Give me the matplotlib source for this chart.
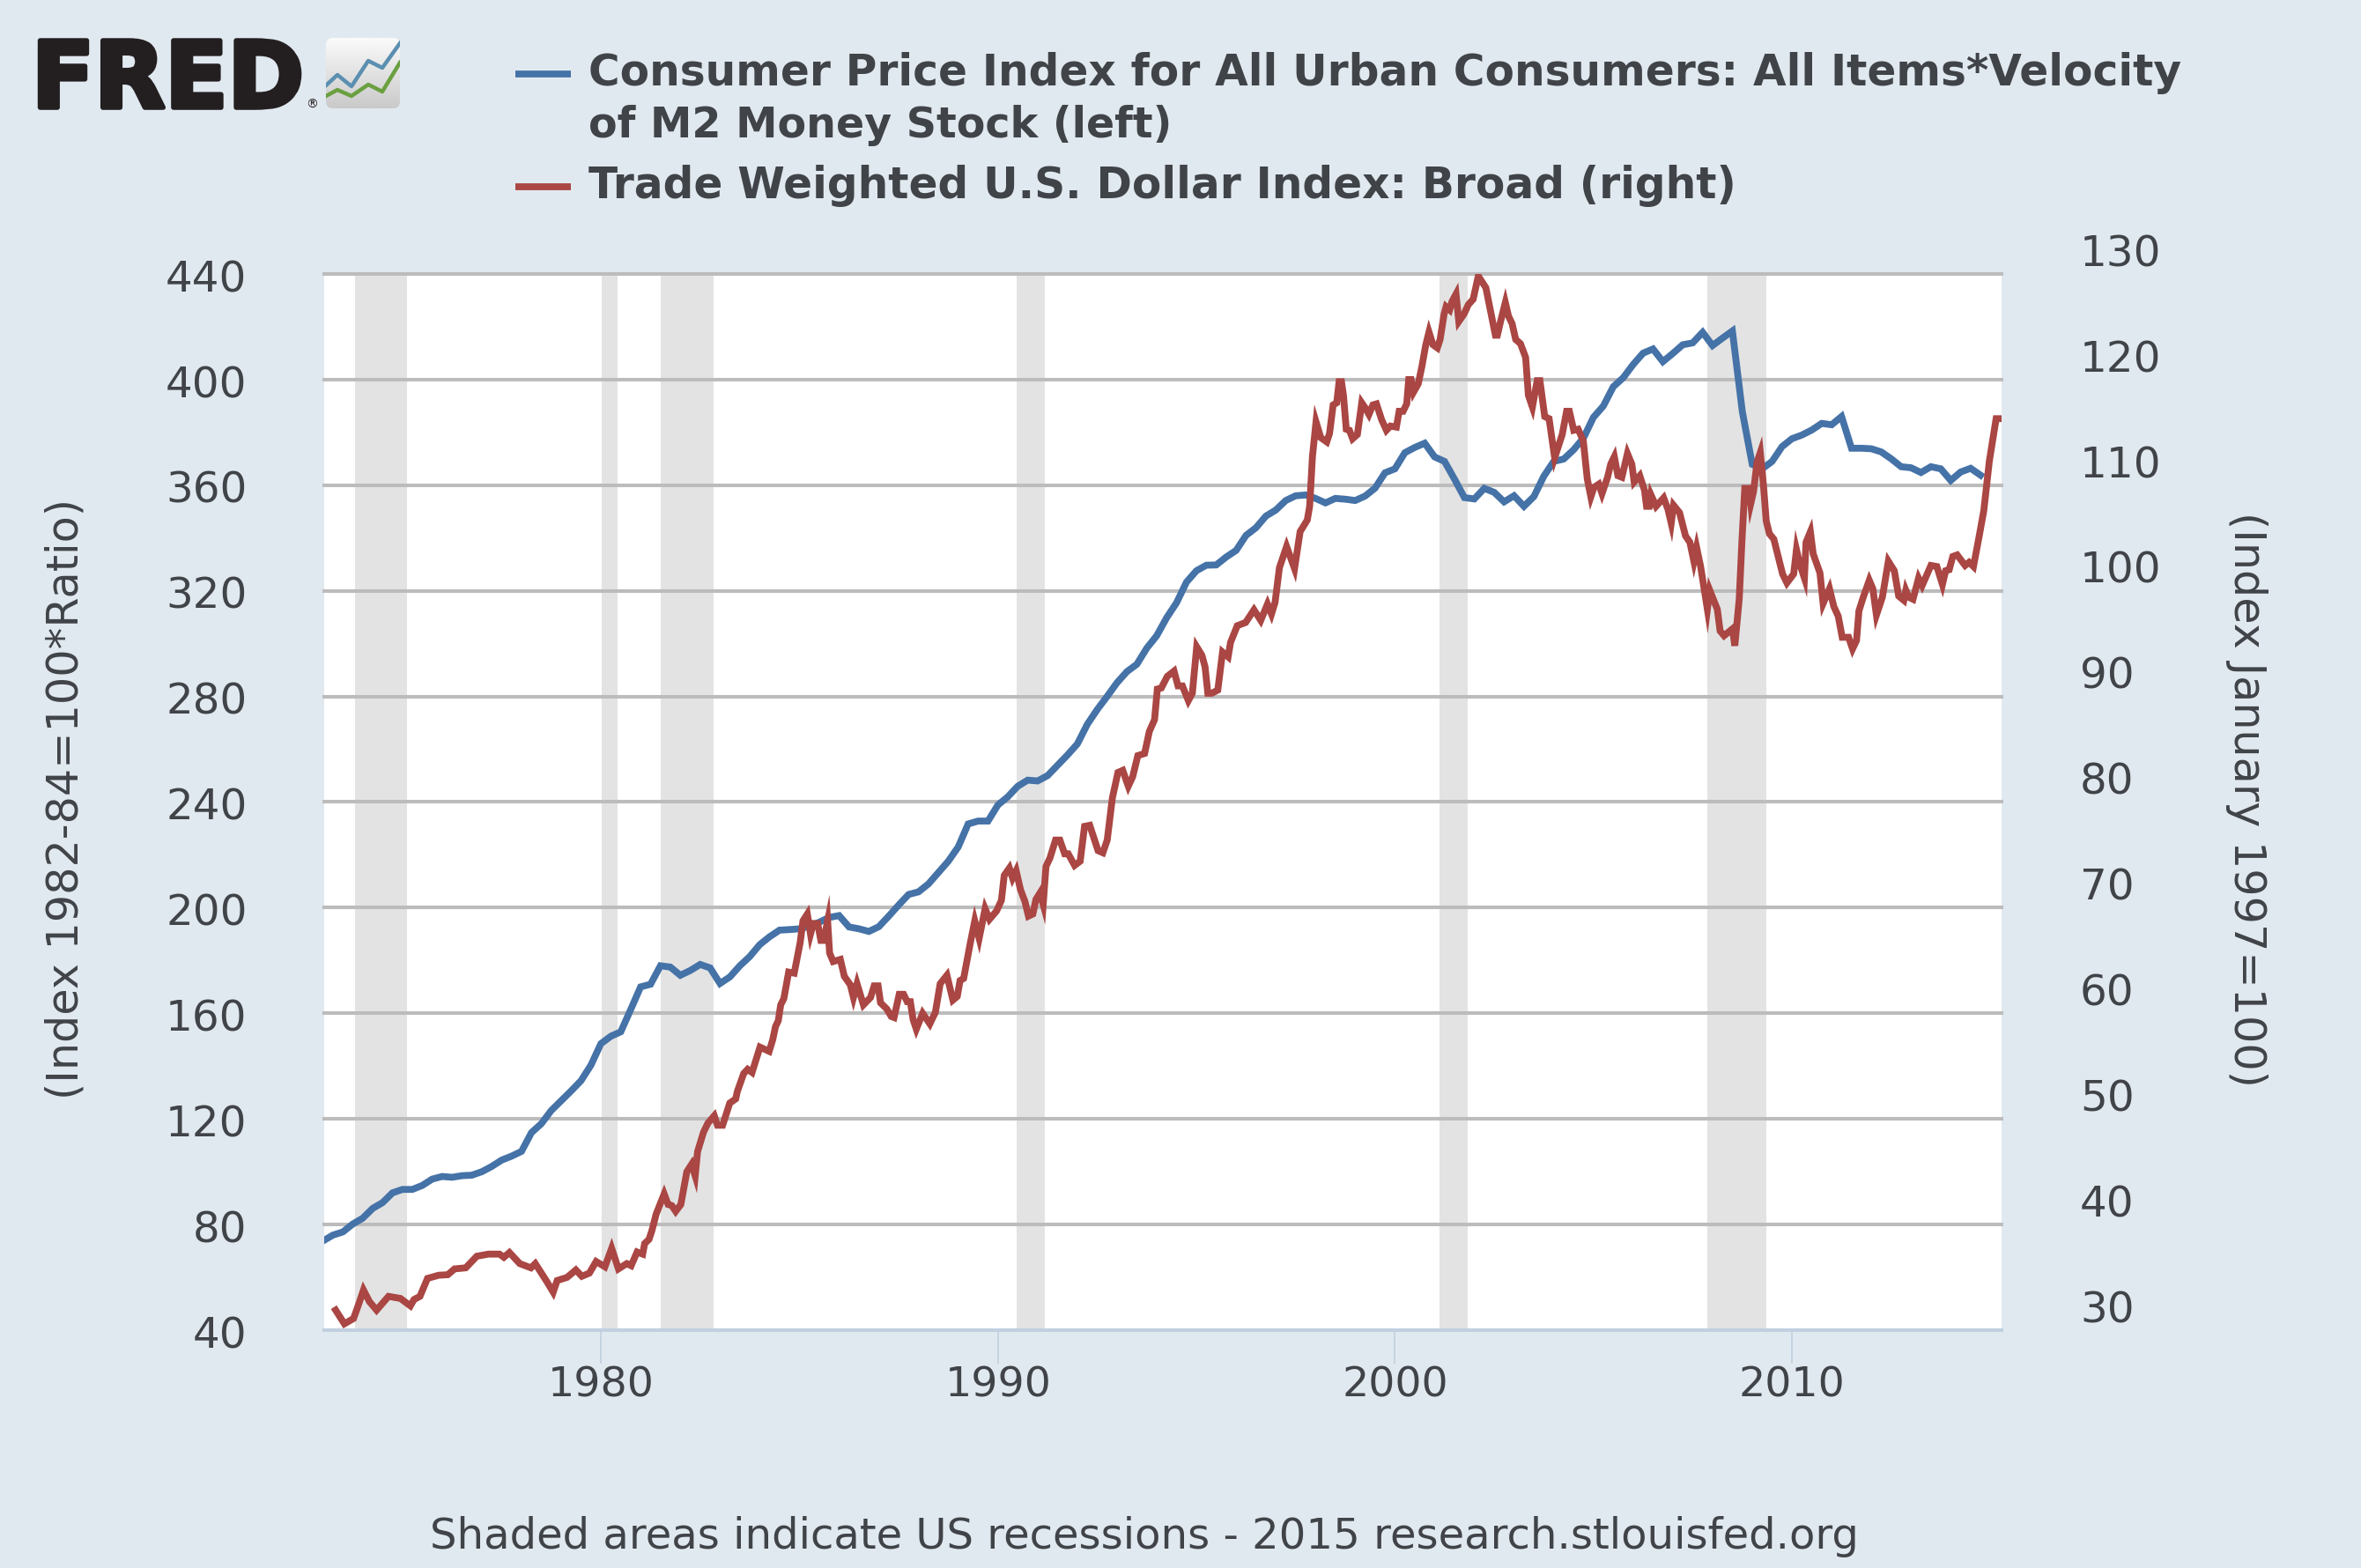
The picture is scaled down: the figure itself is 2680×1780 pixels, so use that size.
import matplotlib
matplotlib.use("Agg")
import matplotlib.pyplot as plt
import matplotlib.patheffects as pe
from matplotlib.patches import FancyBboxPatch
from matplotlib.lines import Line2D
from matplotlib.transforms import ScaledTranslation
import numpy as np

W, H = 2680, 1780
DPI = 100

BG = "#e1e9f0"
TEXT = "#404448"
BLUE = "#4572a7"
RED = "#aa4643"
GRID = "#bcbcbc"
AXIS = "#c0d0e0"

# CPI * M2 velocity, quarterly from 1973 Q1
blue_values = [
    73.8, 76, 77.2, 80.2, 82.4, 86.1, 88.3, 92, 93.3, 93.3, 94.8, 97.2, 98.2, 97.9, 98.5, 98.7,
    100, 102, 104.4, 105.9, 107.7, 114.8, 118.2, 123.2, 126.9, 130.6, 134.5, 140.4, 148.5, 151.3, 153, 161.4,
    170, 171, 178, 177.5, 174.4, 176.2, 178.5, 177.2, 171.3, 173.8, 178, 181.5, 186, 189, 191.5, 191.7,
    192, 193, 194.5, 196.3, 197, 192.7, 192, 191, 192.8, 196.8, 201, 205, 206, 209, 213.3, 217.6,
    223, 231.7, 232.8, 232.8, 238.9, 242, 246, 248.3, 248, 250, 253.9, 257.8, 262, 269.4, 275, 280,
    285.2, 289.4, 292.2, 298.3, 303, 309.8, 315.5, 323.3, 327.6, 329.7, 329.8, 332.8, 335.3, 341, 343.9, 348.3,
    350.6, 354.2, 356, 356.3, 355, 353.3, 355, 354.7, 354.2, 355.9, 358.9, 364.7,
    366.2, 372.3, 374.3, 375.9, 370.7, 369, 362.3, 355.3, 354.8, 358.8, 357.3, 353.7, 356, 352, 355.7, 363.4,
    369, 369.9, 373.4, 377.9, 385.7, 390, 397.3, 400.7, 405.7, 410, 411.6, 406.8, 409.9, 413.2, 413.9, 417.9,
    412.9, 415.7, 418.4, 387.9, 367.9, 366.2, 369, 374.6, 377.6, 379, 380.9, 383.4, 382.9, 386, 374, 374,
    373.8, 372.6, 370, 367, 366.6, 364.8, 367, 366.2, 361.8, 365, 366.4, 363.8,
]
blue_years = 1973 + np.arange(len(blue_values)) / 4

# trade weighted dollar, read vertex by vertex
red_years = [
    1973.33, 1973.55, 1973.78, 1973.89, 1974.03, 1974.18, 1974.36, 1974.66, 1974.96, 1975.21, 1975.3, 1975.45,
    1975.64, 1975.92, 1976.15, 1976.32, 1976.6, 1976.88, 1977.17, 1977.45, 1977.56, 1977.7, 1977.96, 1978.24,
    1978.35, 1978.64, 1978.8, 1978.9, 1979.15, 1979.37, 1979.52, 1979.71, 1979.88, 1980.1, 1980.27, 1980.44,
    1980.65, 1980.76,
    1980.84, 1980.91, 1981.05, 1981.1, 1981.21, 1981.28, 1981.39, 1981.59, 1981.69, 1981.78, 1981.88, 1982.01,
    1982.16, 1982.28, 1982.37, 1982.43, 1982.58, 1982.69, 1982.85, 1982.93, 1983.06, 1983.24, 1983.39, 1983.43,
    1983.59, 1983.69, 1983.8, 1984.0, 1984.23, 1984.32, 1984.39, 1984.46, 1984.52,
    1984.6, 1984.72, 1984.86, 1985.01, 1985.08, 1985.19, 1985.27, 1985.34, 1985.45, 1985.53, 1985.6,
    1985.7, 1985.75, 1985.84, 1986.02, 1986.12, 1986.27, 1986.35, 1986.44, 1986.6, 1986.78, 1986.87, 1986.97,
    1987.03, 1987.19, 1987.3, 1987.37, 1987.5, 1987.61, 1987.7, 1987.78, 1987.85, 1987.93, 1988.09, 1988.27,
    1988.41, 1988.53, 1988.7, 1988.85, 1988.96, 1989.03, 1989.12,
    1989.29, 1989.4, 1989.51, 1989.66, 1989.77, 1989.95, 1990.07, 1990.14, 1990.27, 1990.35, 1990.44, 1990.55,
    1990.66, 1990.75, 1990.86, 1990.94, 1991.04, 1991.12, 1991.19, 1991.29, 1991.43, 1991.54, 1991.66, 1991.75,
    1991.91, 1992.05,
    1992.16, 1992.29, 1992.5, 1992.62, 1992.73, 1992.86, 1993.0,
    1993.12, 1993.26, 1993.37, 1993.5, 1993.67, 1993.79, 1993.92, 1993.99, 1994.09, 1994.24, 1994.41, 1994.51,
    1994.62, 1994.77, 1994.87, 1994.98, 1995.11, 1995.19, 1995.26, 1995.36, 1995.51, 1995.63, 1995.77, 1995.83,
    1996.0, 1996.21, 1996.42, 1996.59, 1996.76, 1996.86, 1996.95, 1997.06, 1997.24, 1997.44, 1997.58, 1997.76,
    1997.82, 1997.89, 1997.98, 1998.1, 1998.25, 1998.32, 1998.41, 1998.5, 1998.56, 1998.62, 1998.67, 1998.74,
    1998.82, 1998.9, 1999.02, 1999.13, 1999.22, 1999.31, 1999.41, 1999.5, 1999.63, 1999.75, 1999.85, 2000.0,
    2000.07, 2000.17, 2000.26, 2000.31, 2000.37, 2000.43, 2000.55, 2000.64, 2000.74, 2000.82, 2000.92, 2001.03,
    2001.1, 2001.2, 2001.25, 2001.34, 2001.4, 2001.5, 2001.57, 2001.7, 2001.81, 2001.93, 2002.06, 2002.25,
    2002.49, 2002.54, 2002.62, 2002.74, 2002.82, 2002.91, 2003.0, 2003.12, 2003.25, 2003.32, 2003.42, 2003.54,
    2003.61, 2003.73, 2003.84, 2003.98, 2004.17, 2004.28, 2004.35, 2004.46, 2004.57, 2004.7, 2004.8, 2004.89,
    2004.97, 2005.09, 2005.17, 2005.31, 2005.39, 2005.48, 2005.57, 2005.67, 2005.81, 2005.92, 2005.98, 2006.12,
    2006.24, 2006.29, 2006.36, 2006.4, 2006.53, 2006.72, 2006.83, 2006.91, 2006.97, 2007.12, 2007.27, 2007.38,
    2007.48, 2007.55, 2007.65, 2007.75, 2007.82, 2007.88, 2008.07, 2008.14, 2008.24, 2008.45, 2008.51, 2008.62,
    2008.69, 2008.76, 2008.87, 2008.91, 2008.98, 2009.07, 2009.15, 2009.23, 2009.3, 2009.38, 2009.49, 2009.6,
    2009.71, 2009.82, 2009.99, 2010.06, 2010.14, 2010.26, 2010.3, 2010.41, 2010.48, 2010.65, 2010.73, 2010.89,
    2011.0, 2011.11, 2011.21, 2011.37, 2011.47, 2011.57, 2011.63, 2011.74, 2011.89, 2011.98, 2012.07, 2012.22,
    2012.37, 2012.52, 2012.63, 2012.76, 2012.81, 2012.88, 2012.99, 2013.13, 2013.22, 2013.44, 2013.59, 2013.73,
    2013.81, 2013.9, 2013.99, 2014.1, 2014.3, 2014.4, 2014.51, 2014.66, 2014.77, 2014.91, 2015.08, 2015.21,
]
red_values = [
    31.9, 30.6, 31.1, 32.25, 33.8, 32.7, 31.9, 33.2, 33, 32.3, 32.9, 33.2,
    34.9, 35.2, 35.25, 35.8, 35.9, 37, 37.2, 37.2, 36.9, 37.35, 36.3, 35.9,
    36.3, 34.6, 33.6, 34.7, 35, 35.7, 35.1, 35.4, 36.5, 36, 37.75, 35.8,
    36.3, 36.1,
    36.8, 37.4, 37.2, 38.2, 38.6, 39.4, 41, 42.9, 41.9, 41.8, 41.25, 41.9,
    45, 45.7, 44.6, 46.9, 48.75, 49.6, 50.3, 49.4, 49.4, 51.5, 51.9, 52.6,
    54.3, 54.7, 54.4, 56.8, 56.4, 57.5, 58.75, 59.3, 60.8,
    61.4, 63.9, 63.8, 66.7, 68.75, 69.4, 67.5, 68.5, 68.5, 66.9, 66.9,
    68.75, 65.7, 64.9, 65.1, 63.5, 62.7, 61.5, 62.8, 60.8, 61.5, 62.6, 62.6,
    61, 60.4, 59.7, 59.6, 61.8, 61.8, 61.1, 61.1, 59.4, 58.5, 60, 59,
    60.1, 62.8, 63.6, 61.25, 61.6, 63.1, 63.3,
    66.7, 68.75, 67.1, 69.9, 68.9, 69.7, 70.7, 73.05, 73.75, 72.8, 73.5, 71.7,
    70.6, 69.2, 69.4, 70.8, 71.4, 70.3, 73.9, 74.7, 76.4, 76.4, 75.1, 75.1,
    74, 74.4,
    77.7, 77.8, 75.4, 75.2, 76.4, 80.4, 82.8,
    83, 81.5, 82.4, 84.4, 84.6, 86.7, 87.8, 90.7, 90.8, 91.9, 92.4, 91,
    91, 89.6, 90.3, 94.7, 93.9, 92.8, 90.3, 90.3, 90.6, 94.2, 93.75, 95.1,
    96.7, 97, 98.2, 97.2, 98.75, 97.8, 98.9, 102.2, 104.2, 102.1, 105.6, 106.7,
    108, 112.7, 116, 114.5, 114.1, 114.9, 117.6, 117.8, 119.8, 119.8, 118.5, 115.3,
    115.2, 114.4, 114.8, 117.8, 117.3, 116.7, 117.6, 117.7, 116.2, 115.2, 115.6, 115.5,
    117, 117, 117.7, 120, 120, 118.8, 119.6, 121.2, 123.3, 124.5, 123.3, 123,
    123.8, 126.2, 126.9, 126.6, 127.4, 128.1, 125.5, 126.2, 127.1, 127.6, 129.8, 128.7,
    124.2, 124.2, 125.5, 127.3, 126, 125.3, 123.8, 123.4, 122.1, 118.5, 117.4, 119.9,
    119.9, 116.5, 116.3, 112.6, 114.8, 117, 117, 115.2, 115.3, 114.2, 110.6, 108.9,
    109.8, 110.1, 109.2, 110.75, 112, 112.7, 110.9, 110.75, 113, 112, 110.3, 110.9,
    109.5, 108, 108, 109.1, 108, 108.8, 107.7, 106.4, 108.1, 107.4, 105.2, 104.6,
    102.8, 104.1, 102.3, 99.9, 98.25, 100.05, 98.25, 96.2, 95.75, 96.4, 94.8, 99.2,
    104.8, 109.7, 109.7, 108.25, 109.4, 112.2, 113.1, 110, 106.6, 105.4, 104.9, 103.25,
    101.6, 100.75, 101.6, 103.9, 102.6, 101.2, 104.6, 105.6, 103.5, 101.7, 98.8, 100.2,
    98.5, 97.6, 95.6, 95.6, 94.5, 95.3, 98.1, 99.4, 101, 100.2, 97.7, 99.4,
    102.8, 101.9, 99.5, 99.1, 100.05, 99.4, 99.2, 101.2, 100.5, 102.4, 102.3, 100.6,
    101.9, 102, 103.25, 103.4, 102.4, 102.7, 102.3, 105.3, 107.6, 112.3, 116.3, 116.3,
]

rec_starts = [1973.8, 1980.02, 1981.51, 1990.47, 2001.12, 2007.86]
rec_ends = [1975.11, 1980.43, 1982.83, 1991.18, 2001.83, 2009.35]

left_ticks = list(range(40, 441, 40))
right_ticks = list(range(30, 131, 10))
year_ticks = [1980, 1990, 2000, 2010]


def fx(px):
    return px / W


def fy(px):
    return 1 - px / H


plt.rcParams["font.family"] = "DejaVu Sans"

fig = plt.figure(figsize=(W / DPI, H / DPI), dpi=DPI, facecolor=BG)
ax = fig.add_axes([fx(368), fy(1510), fx(2272 - 368), (1510 - 311) / H], facecolor="white")
ax2 = ax.twinx()

for s, e in zip(rec_starts, rec_ends):
    ax.axvspan(s, e, color="#e3e3e3", lw=0, zorder=1)
for v in left_ticks[1:]:
    ax.axhline(v, color=GRID, lw=2.9, zorder=2, clip_on=False)

# red years were read with a slightly wider year scale, bring them on to the tick spacing
red_x = 1980 + (np.array(red_years) - 1980) * 1.0018

ax.plot(blue_years, blue_values, color=BLUE, lw=5.6, zorder=3, solid_joinstyle="miter")
ax2.plot(red_x, red_values, color=RED, lw=5.6, zorder=3, solid_joinstyle="miter")

ax.set_xlim(1973.03, 2015.28)
ax.set_ylim(40, 440)
ax2.set_ylim(30, 130)

for a in (ax, ax2):
    for name in ("top", "left", "right"):
        a.spines[name].set_visible(False)
ax2.spines["bottom"].set_visible(False)
ax.spines["bottom"].set_color(AXIS)
ax.spines["bottom"].set_linewidth(2.9)
ax.spines["bottom"].set_zorder(2.5)

ax.set_xticks(year_ticks)
ax.set_yticks(left_ticks)
ax2.set_yticks(right_ticks)
ax.tick_params(axis="x", length=27, width=1.2, color=AXIS, labelsize=34.2, labelcolor=TEXT, pad=2)
ax.tick_params(axis="y", length=0, labelsize=34.8, labelcolor=TEXT, pad=63)
ax2.tick_params(axis="y", length=0, labelsize=34.8, labelcolor=TEXT, pad=64)

# the right axis labels sit above their real level on this chart
shift = ScaledTranslation(0, 19.6 / 72, fig.dpi_scale_trans)
for lab in ax2.get_yticklabels():
    lab.set_transform(lab.get_transform() + shift)
nudge = ScaledTranslation(0, -1.2 / 72, fig.dpi_scale_trans)
for lab in ax.get_yticklabels():
    lab.set_transform(lab.get_transform() + nudge)

fig.text(fx(75), fy(907), "(Index 1982-84=100*Ratio)", rotation=90, ha="center", va="center",
         fontsize=35.5, color=TEXT)
fig.text(fx(2550), fy(907), "(Index January 1997=100)", rotation=-90, ha="center", va="center",
         fontsize=35.5, color=TEXT)
fig.text(fx(1299), fy(1744), "Shaded areas indicate US recessions - 2015 research.stlouisfed.org",
         ha="center", va="center", fontsize=34.7, color=TEXT)

# legend
legend_rows = [
    (83, "Consumer Price Index for All Urban Consumers: All Items*Velocity", BLUE, 35),
    (143, "of M2 Money Stock (left)", None, 34.3),
    (211, "Trade Weighted U.S. Dollar Index: Broad (right)", RED, 35),
]
for y, label, col, size in legend_rows:
    fig.text(fx(668), fy(y), label, ha="left", va="center", fontsize=size, fontweight="bold", color=TEXT)
    if col:
        fig.add_artist(Line2D([fx(585), fx(648)], [fy(y + 1), fy(y + 1)], color=col, lw=5.6, solid_capstyle="butt"))

# FRED logo
fig.text(fx(36), fy(122), "FRED", ha="left", va="baseline", fontsize=75, fontweight="bold", color="#231f20",
         path_effects=[pe.withStroke(linewidth=4, foreground="#231f20")])
fig.text(fx(354), fy(119), "®", ha="center", va="center", fontsize=10, color="#231f20")

icon = fig.add_axes([fx(370), fy(123), fx(84), 80 / H])
icon.axis("off")
img = icon.imshow(np.linspace(0.98, 0.79, 64).reshape(-1, 1), cmap="gray", vmin=0, vmax=1,
                  extent=(0, 84, 0, 80), aspect="auto")
clip = FancyBboxPatch((0, 0), 84, 80, boxstyle="round,pad=0,rounding_size=8", transform=icon.transData,
                      fc="none", ec="none")
icon.add_patch(clip)
img.set_clip_path(clip)
icon.plot([0, 13, 29, 48, 64, 84], [26, 38, 25, 54, 46, 74], color="#5b8fb0", lw=3.2, clip_on=True)
icon.plot([0, 13, 29, 48, 64, 84], [14, 21, 14, 27, 19, 52], color="#6aa040", lw=3.2, clip_on=True)
icon.set_xlim(0, 84)
icon.set_ylim(0, 80)

fig.savefig("out.png", dpi=DPI, facecolor=BG)
